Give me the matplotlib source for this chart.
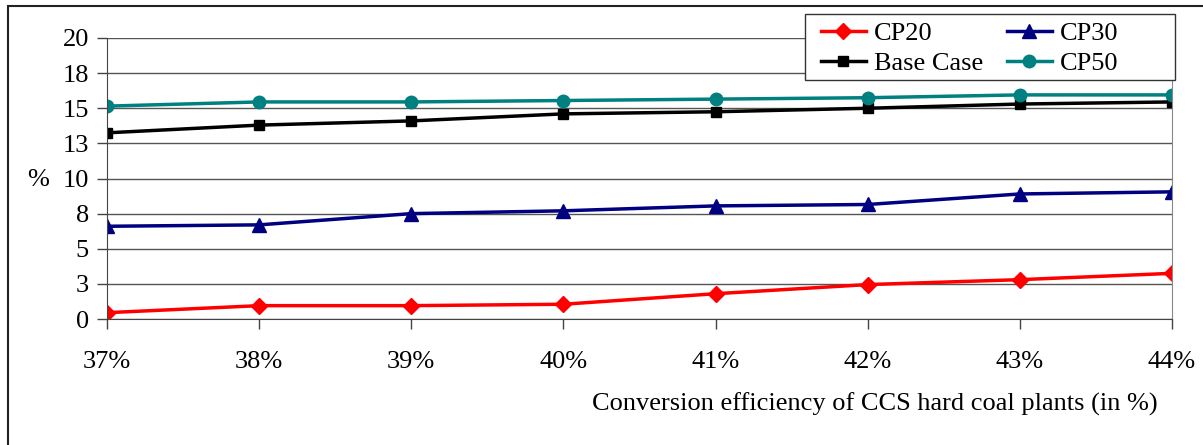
import matplotlib
matplotlib.use("Agg")
import matplotlib.pyplot as plt
from matplotlib.patches import Rectangle
from matplotlib.ticker import FixedLocator, FuncFormatter

plt.rcParams['font.family'] = ['Liberation Serif', 'DejaVu Serif']

categories = ["37%", "38%", "39%", "40%", "41%", "42%", "43%", "44%"]
cp20 = [0.45, 0.95, 0.95, 1.05, 1.8, 2.45, 2.8, 3.25]
cp30 = [6.6, 6.7, 7.5, 7.7, 8.05, 8.15, 8.9, 9.05]
base_case = [13.25, 13.8, 14.1, 14.6, 14.75, 15.0, 15.3, 15.45]
cp50 = [15.15, 15.45, 15.45, 15.55, 15.65, 15.75, 15.95, 15.95]
y_ticks = [0, 2.5, 5, 7.5, 10, 12.5, 15, 17.5, 20]

W, H = 1203, 445
FS = 19
fig = plt.figure(figsize=(W / 100, H / 100), dpi=100)
ax = fig.add_axes([107 / W, 1 - 319 / H, (1172 - 107) / W, (319 - 38) / H])

x = list(range(len(categories)))
ax.plot(x, cp20, color='#FF0000', lw=2.5, marker='D', ms=8, label='CP20')
ax.plot(x, base_case, color='#000000', lw=2.5, marker='s', ms=7, label='Base Case')
ax.plot(x, cp30, color='#000080', lw=2.5, marker='^', ms=10, label='CP30')
ax.plot(x, cp50, color='#008080', lw=2.5, marker='o', ms=9, label='CP50')

ax.set_xlim(0, len(categories) - 1)
ax.set_ylim(0, 20)
ax.set_xticks(x)
ax.set_xticklabels(categories)
ax.yaxis.set_major_locator(FixedLocator(y_ticks))
ax.yaxis.set_major_formatter(FuncFormatter(lambda v, p: f"{int(v + 0.5)}"))
ax.grid(axis='y', color='#555555', lw=1)
ax.set_axisbelow(True)

ax.spines['top'].set_visible(False)
ax.spines['right'].set_color('#888888')
ax.spines['left'].set_color('#444444')
ax.spines['bottom'].set_color('#444444')
ax.tick_params(axis='both', direction='out', length=7, width=1, color='#444444',
               labelsize=FS)
ax.tick_params(axis='x', pad=16)
ax.tick_params(axis='y', pad=6)

fig.text(38 / W, 1 - 180 / H, '%', fontsize=FS, ha='center', va='center')
fig.text(875 / W, 1 - 404 / H, 'Conversion efficiency of CCS hard coal plants (in %)',
         fontsize=FS, ha='center', va='center')

# legend box drawn separately so it keeps a wide, fixed footprint
fig.patches.append(Rectangle((805 / W, 1 - 80 / H), (1175 - 805) / W, (80 - 14) / H,
                             transform=fig.transFigure, facecolor='white',
                             edgecolor='#333333', lw=1, zorder=5))
leg = fig.legend(ncol=2, loc='upper left', bbox_to_anchor=(813 / W, 1 - 14 / H),
                 borderaxespad=0, fontsize=FS, frameon=False,
                 handlelength=1.7, columnspacing=0.9,
                 borderpad=0.3, labelspacing=0.25, handletextpad=0.3)
leg.set_zorder(6)

fig.patches.append(Rectangle((8 / W, -0.1), 1.2, 1 - 6 / H + 0.1,
                             transform=fig.transFigure, fill=False,
                             edgecolor='#222222', lw=1.5))

fig.savefig('out.png', dpi=100)
